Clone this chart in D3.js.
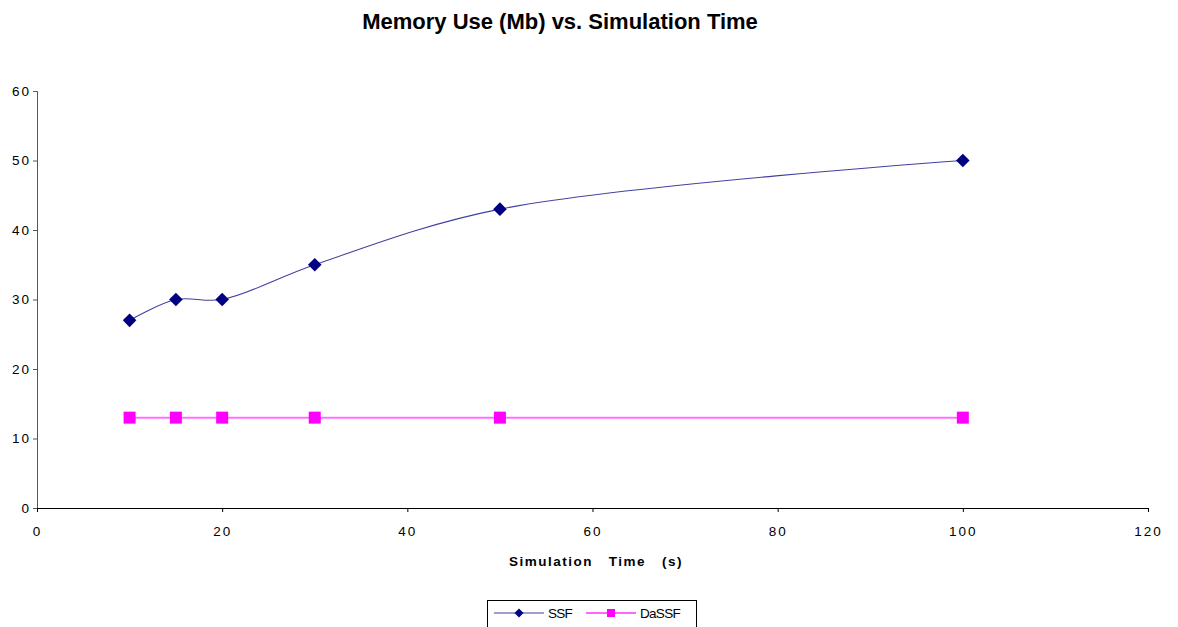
<!DOCTYPE html>
<html>
<head>
<meta charset="utf-8">
<script src="https://cdn.jsdelivr.net/npm/d3@7"></script>
<style>
  html, body { margin: 0; padding: 0; background: #fff; }
  svg { display: block; font-family: Arial, "Liberation Sans", sans-serif; }
</style>
</head>
<body>
<svg id="chart" width="1178" height="627"></svg>
<script>
// Simulation times (s) and memory use (Mb) for each simulator
const simTimes = [10, 15, 20, 30, 50, 100];
const ssfMemory = [27, 30, 30, 35, 43, 50];
const dassfMemory = [13, 13, 13, 13, 13, 13];
const xTicks = [0, 20, 40, 60, 80, 100, 120];
const yTicks = [0, 10, 20, 30, 40, 50, 60];
const seriesNames = ["SSF", "DaSSF"];

const svg = d3.select("#chart");

const x = d3.scaleLinear().domain([0, 120]).range([37, 1148]);
const y = d3.scaleLinear().domain([0, 60]).range([508, 91]);

// Title
svg.append("text")
  .attr("x", 560).attr("y", 29)
  .attr("text-anchor", "middle")
  .attr("font-size", 22).attr("font-weight", "bold")
  .attr("fill", "#000")
  .text("Memory Use (Mb) vs. Simulation Time");

const tickFont = sel => sel
  .attr("font-size", 13.5).attr("fill", "#000")
  .attr("letter-spacing", 2)
  .attr("font-family", "Arial, 'Liberation Sans', sans-serif");

// Y axis
const yAxis = svg.append("g")
  .attr("transform", `translate(${x(0)},0)`)
  .call(d3.axisLeft(y).tickValues(yTicks).tickSize(4).tickPadding(2).tickFormat(d3.format("d")));
yAxis.select(".domain").attr("stroke", "#555");
yAxis.selectAll(".tick line").attr("stroke", "#555");
yAxis.selectAll(".tick text").call(tickFont);

// X axis
const xAxis = svg.append("g")
  .attr("transform", `translate(0,${y(0)})`)
  .call(d3.axisBottom(x).tickValues(xTicks).tickSize(4).tickPadding(14).tickFormat(d3.format("d")));
xAxis.select(".domain").attr("stroke", "#000");
xAxis.selectAll(".tick line").attr("stroke", "#000");
xAxis.selectAll(".tick text").call(tickFont);

// X axis title
svg.append("text")
  .attr("x", 596).attr("y", 566)
  .attr("text-anchor", "middle")
  .attr("font-size", 13.5).attr("font-weight", "bold")
  .attr("letter-spacing", 1.5)
  .style("white-space", "pre")
  .text("Simulation   Time   (s)");

const ssfPts = simTimes.map((t, i) => [t, ssfMemory[i]]);
const dassfPts = simTimes.map((t, i) => [t, dassfMemory[i]]);

const smoothLine = d3.line()
  .x(d => x(d[0])).y(d => y(d[1]))
  .curve(d3.curveCatmullRom.alpha(0.5));

// DaSSF series
svg.append("path")
  .datum(dassfPts)
  .attr("d", smoothLine)
  .attr("fill", "none")
  .attr("stroke", "#ff00ff")
  .attr("stroke-opacity", 0.55)
  .attr("stroke-width", 2);

const sq = 12;
svg.append("g").selectAll("rect")
  .data(dassfPts).join("rect")
  .attr("x", d => x(d[0]) - sq / 2)
  .attr("y", d => y(d[1]) - sq / 2)
  .attr("width", sq).attr("height", sq)
  .attr("fill", "#ff00ff");

// SSF series
svg.append("path")
  .datum(ssfPts)
  .attr("d", smoothLine)
  .attr("fill", "none")
  .attr("stroke", "#000080")
  .attr("stroke-opacity", 0.75)
  .attr("stroke-width", 1.1);

const dm = 6.8;
const diamond = (cx, cy) => `M${cx},${cy - dm}L${cx + dm},${cy}L${cx},${cy + dm}L${cx - dm},${cy}Z`;
svg.append("g").selectAll("path")
  .data(ssfPts).join("path")
  .attr("d", d => diamond(x(d[0]), y(d[1])))
  .attr("fill", "#000080");

// Legend
const legend = svg.append("g");
legend.append("rect")
  .attr("x", 487.5).attr("y", 600.5)
  .attr("width", 209).attr("height", 40)
  .attr("fill", "#fff").attr("stroke", "#000").attr("stroke-width", 1);

const legendItems = [
  { name: seriesNames[0], x0: 494, color: "#000080", shape: "diamond" },
  { name: seriesNames[1], x0: 586, color: "#ff00ff", shape: "square" }
];
const ly = 613;
legendItems.forEach(it => {
  legend.append("line")
    .attr("x1", it.x0).attr("x2", it.x0 + 50)
    .attr("y1", ly).attr("y2", ly)
    .attr("stroke", it.color)
    .attr("stroke-opacity", it.shape === "square" ? 0.6 : 0.75)
    .attr("stroke-width", it.shape === "square" ? 2 : 1.1);
  if (it.shape === "diamond") {
    const s = 4.5, cx = it.x0 + 25;
    legend.append("path")
      .attr("d", `M${cx},${ly - s}L${cx + s},${ly}L${cx},${ly + s}L${cx - s},${ly}Z`)
      .attr("fill", it.color);
  } else {
    legend.append("rect")
      .attr("x", it.x0 + 25 - 4).attr("y", ly - 4)
      .attr("width", 8).attr("height", 8)
      .attr("fill", it.color);
  }
  legend.append("text")
    .attr("x", it.x0 + 54).attr("y", ly + 5)
    .attr("font-size", 13.5).attr("letter-spacing", -0.7)
    .attr("fill", "#000")
    .text(it.name);
});
</script>
</body>
</html>
